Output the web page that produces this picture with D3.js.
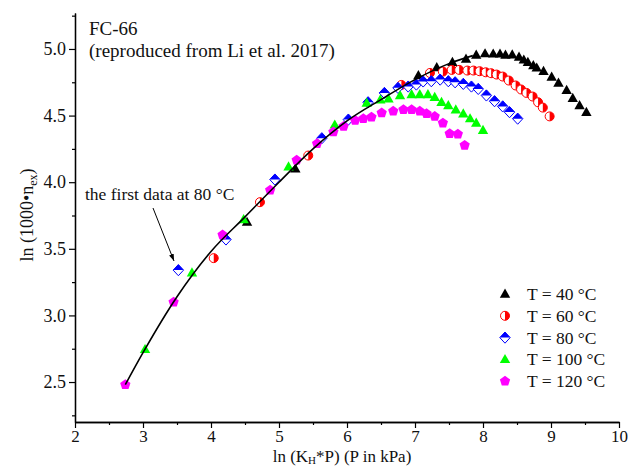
<!DOCTYPE html>
<html>
<head>
<meta charset="utf-8">
<script src="https://cdn.jsdelivr.net/npm/d3@7"></script>
<style>
  html, body { margin: 0; padding: 0; background: #fff; }
  svg { display: block; font-family: "Liberation Serif", "Times New Roman", serif; }
</style>
</head>
<body>
<svg id="chart" width="629" height="467"></svg>
<script>
// Tick values
const xTicks = [2, 3, 4, 5, 6, 7, 8, 9, 10];
const yTicks = [2.5, 3.0, 3.5, 4.0, 4.5, 5.0];

// T = 40 °C
const t40X = [4.53, 5.24, 7.05, 7.32, 7.55, 7.75, 7.90, 8.03, 8.15, 8.25, 8.33, 8.43, 8.53, 8.60, 8.66, 8.74, 8.79, 8.89, 9.01, 9.11, 9.23, 9.32, 9.42, 9.52];
const t40Y = [3.70, 4.10, 4.80, 4.86, 4.90, 4.925, 4.955, 4.965, 4.963, 4.963, 4.955, 4.957, 4.94, 4.918, 4.90, 4.875, 4.858, 4.833, 4.79, 4.745, 4.69, 4.63, 4.575, 4.525];

// T = 60 °C
const t60X = [4.04, 4.72, 5.43, 6.80, 7.22, 7.41, 7.54, 7.65, 7.77, 7.86, 7.95, 8.04, 8.12, 8.20, 8.29, 8.38, 8.48, 8.56, 8.64, 8.73, 8.81, 8.88, 8.98];
const t60Y = [3.43, 3.85, 4.20, 4.73, 4.82, 4.83, 4.843, 4.843, 4.838, 4.838, 4.833, 4.825, 4.818, 4.808, 4.793, 4.763, 4.726, 4.696, 4.67, 4.643, 4.60, 4.56, 4.494];

// T = 80 °C
const t80X = [3.52, 4.22, 4.94, 5.63, 6.02, 6.31, 6.55, 6.75, 6.90, 7.02, 7.12, 7.24, 7.37, 7.49, 7.59, 7.71, 7.83, 7.93, 8.05, 8.17, 8.29, 8.39, 8.51];
const t80Y = [3.34, 3.57, 4.02, 4.33, 4.47, 4.60, 4.67, 4.708, 4.718, 4.733, 4.756, 4.758, 4.77, 4.758, 4.75, 4.738, 4.718, 4.70, 4.651, 4.608, 4.569, 4.526, 4.477];

// T = 100 °C
const t100X = [3.03, 3.72, 4.48, 5.14, 5.82, 6.29, 6.49, 6.61, 6.78, 6.95, 7.07, 7.19, 7.29, 7.39, 7.49, 7.60, 7.71, 7.81, 7.90, 8.00];
const t100Y = [2.745, 3.32, 3.72, 4.115, 4.43, 4.594, 4.619, 4.626, 4.651, 4.658, 4.658, 4.658, 4.638, 4.60, 4.576, 4.544, 4.514, 4.477, 4.444, 4.389];

// T = 120 °C
const t120X = [2.74, 3.45, 4.17, 4.87, 5.26, 5.56, 5.80, 5.95, 6.12, 6.24, 6.36, 6.51, 6.68, 6.83, 6.95, 7.07, 7.17, 7.29, 7.41, 7.51, 7.63, 7.73];
const t120Y = [2.48, 3.10, 3.605, 3.94, 4.165, 4.29, 4.377, 4.419, 4.464, 4.477, 4.489, 4.52, 4.534, 4.544, 4.544, 4.534, 4.514, 4.494, 4.444, 4.365, 4.36, 4.277];

// Characteristic curve
const fitX = [2.74, 3.0, 3.5, 4.0, 4.5, 5.0, 5.5, 6.0, 6.5, 7.0, 7.5, 7.85];
const fitY = [2.48, 2.72, 3.14, 3.48, 3.74, 4.00, 4.25, 4.46, 4.62, 4.77, 4.89, 4.95];

const legendLabels = ["T = 40 °C", "T = 60 °C", "T = 80 °C", "T = 100 °C", "T = 120 °C"];

const svg = d3.select("#chart");
const x = d3.scaleLinear().domain([2, 10]).range([75, 619]);
const y = d3.scaleLinear().domain([2.2, 5.27]).range([422, 13]);

// Axes
const xAxis = d3.axisBottom(x).tickValues(xTicks).tickFormat(d3.format("d")).tickSizeInner(6).tickSizeOuter(0).tickPadding(2);
const xMinor = d3.axisBottom(x).tickValues(d3.range(2.5, 10, 1)).tickFormat("").tickSizeInner(3).tickSizeOuter(0);
const yAxis = d3.axisLeft(y).tickValues(yTicks).tickFormat(d3.format(".1f")).tickSizeInner(6).tickSizeOuter(0).tickPadding(3);
const yMinor = d3.axisLeft(y).tickValues(d3.range(2.25, 5.26, 0.5)).tickFormat("").tickSizeInner(3).tickSizeOuter(0);

function styleAxis(g, size) {
  g.select(".domain").attr("stroke", "#000").attr("stroke-width", 1.3);
  g.selectAll(".tick line").attr("stroke", "#000").attr("stroke-width", 1.2);
  g.selectAll(".tick text").attr("fill", "#111").style("font-size", size + "px").style("font-family", "Liberation Serif, serif");
}

svg.append("g").attr("transform", `translate(0,${y(2.2)})`).call(xMinor).call(styleAxis, 17);
svg.append("g").attr("transform", `translate(0,${y(2.2)})`).call(xAxis).call(styleAxis, 17);
svg.append("g").attr("transform", `translate(${x(2)},0)`).call(yMinor).call(styleAxis, 18);
svg.append("g").attr("transform", `translate(${x(2)},0)`).call(yAxis).call(styleAxis, 18);

// Axis titles
const xTitle = svg.append("text").attr("x", 342).attr("y", 462).attr("text-anchor", "middle")
  .style("font-size", "17px").attr("fill", "#111");
xTitle.append("tspan").text("ln (K");
xTitle.append("tspan").attr("dy", 2).style("font-size", "11px").text("H");
xTitle.append("tspan").attr("dy", -2).text("*P) (P in kPa)");

const yTitle = svg.append("text").attr("transform", "translate(33,215) rotate(-90)").attr("text-anchor", "middle")
  .style("font-size", "18px").attr("fill", "#111");
yTitle.append("tspan").text("ln (1000•n");
yTitle.append("tspan").attr("dy", 4).style("font-size", "12px").text("ex");
yTitle.append("tspan").attr("dy", -4).text(")");

// Title block
svg.append("text").attr("x", 89).attr("y", 35).style("font-size", "19px").attr("fill", "#111").text("FC-66");
svg.append("text").attr("x", 89).attr("y", 57).style("font-size", "19px").attr("fill", "#111").text("(reproduced from Li et al. 2017)");

// Marker shapes
const triPath = "M0,-5.5L5.2,3.7L-5.2,3.7Z";
const diamondPath = "M0,-5.6L5.2,0L0,5.6L-5.2,0Z";
const diamondTop = "M0,-5.6L5.2,0L-5.2,0Z";
const pentPath = (() => {
  const r = 5.4, pts = [];
  for (let i = 0; i < 5; i++) {
    const a = -Math.PI / 2 + i * 2 * Math.PI / 5;
    pts.push([r * Math.cos(a), r * Math.sin(a)]);
  }
  return "M" + pts.map(p => p.join(",")).join("L") + "Z";
})();
const halfCircleRight = "M0,-4.5A4.5,4.5 0 0,1 0,4.5Z";

function drawMarker(g, type) {
  if (type === "t40") {
    g.append("path").attr("d", triPath).attr("fill", "#000");
  } else if (type === "t60") {
    g.append("circle").attr("r", 4.5).attr("fill", "#fff").attr("stroke", "#f00").attr("stroke-width", 1);
    g.append("path").attr("d", halfCircleRight).attr("fill", "#f00");
  } else if (type === "t80") {
    g.append("path").attr("d", diamondPath).attr("fill", "#fff").attr("stroke", "#0000ff").attr("stroke-width", 1);
    g.append("path").attr("d", diamondTop).attr("fill", "#0000ff");
  } else if (type === "t100") {
    g.append("path").attr("d", triPath).attr("fill", "#00ff00");
  } else {
    g.append("path").attr("d", pentPath).attr("fill", "#ff00ff");
  }
}

const series = [
  { key: "t40", xs: t40X, ys: t40Y },
  { key: "t60", xs: t60X, ys: t60Y },
  { key: "t80", xs: t80X, ys: t80Y },
  { key: "t100", xs: t100X, ys: t100Y },
  { key: "t120", xs: t120X, ys: t120Y }
];

series.forEach(s => {
  const pts = s.xs.map((v, i) => [v, s.ys[i]]);
  svg.append("g").selectAll("g").data(pts).join("g")
    .attr("transform", d => `translate(${x(d[0])},${y(d[1])})`)
    .each(function () { drawMarker(d3.select(this), s.key); });
});

// Fitted curve
const line = d3.line().x(d => x(d[0])).y(d => y(d[1])).curve(d3.curveMonotoneX);
svg.append("path").datum(fitX.map((v, i) => [v, fitY[i]]))
  .attr("d", line).attr("fill", "none").attr("stroke", "#000").attr("stroke-width", 1.6);

// Annotation
svg.append("defs").append("marker").attr("id", "arrow").attr("viewBox", "0 0 10 10")
  .attr("refX", 10).attr("refY", 5).attr("markerWidth", 7).attr("markerHeight", 7)
  .attr("orient", "auto").append("path").attr("d", "M0,1.5L10,5L0,8.5Z").attr("fill", "#000");
svg.append("text").attr("x", 85).attr("y", 200).style("font-size", "17.5px").attr("fill", "#111").text("the first data at 80 °C");
svg.append("line").attr("x1", 153).attr("y1", 208).attr("x2", 174).attr("y2", 261)
  .attr("stroke", "#000").attr("stroke-width", 1).attr("marker-end", "url(#arrow)");

// Legend
const legend = svg.append("g");
legendLabels.forEach((lab, i) => {
  const ly = 294 + i * 21.8;
  const m = legend.append("g").attr("transform", `translate(505,${ly})`);
  drawMarker(m, series[i].key);
  legend.append("text").attr("x", 527).attr("y", ly + 6).style("font-size", "17.5px").attr("fill", "#111").text(lab);
});
</script>
</body>
</html>
